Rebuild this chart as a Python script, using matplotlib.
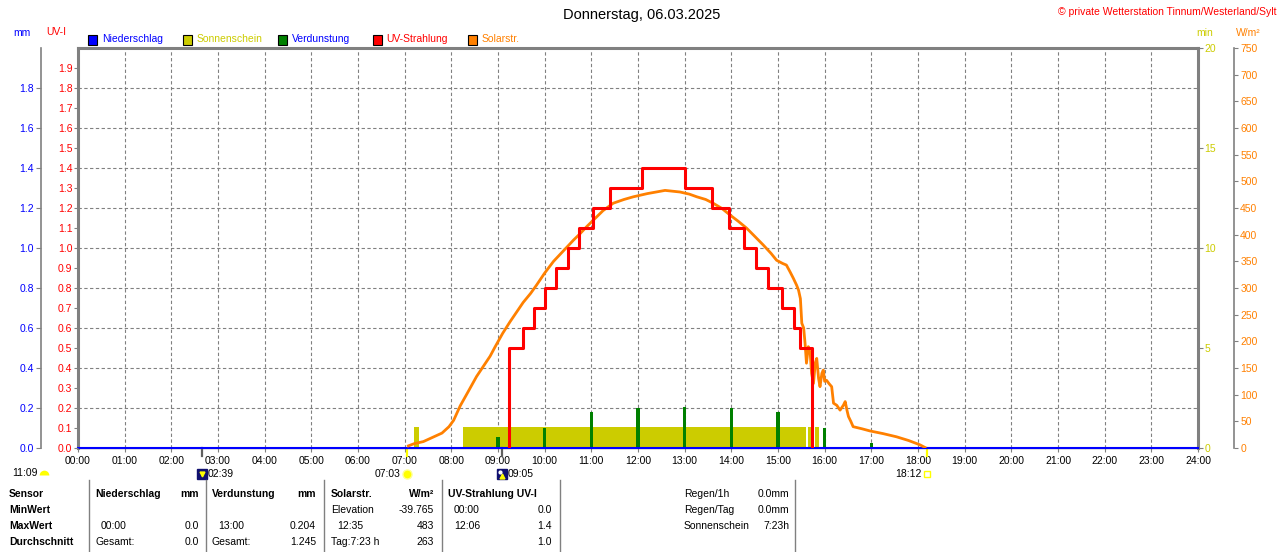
import numpy as np
import matplotlib
matplotlib.use('Agg')
import matplotlib.pyplot as plt
from matplotlib.patches import Rectangle

plt.rcParams['font.family'] = ['Liberation Sans', 'DejaVu Sans']
plt.rcParams['font.size'] = 7.5

W, H = 1280, 552

# ---- data ----
hours = list(range(25))
hour_labels = ['%02d:00' % h for h in hours]

# UV-Strahlung (UV-I), step function
uv_t = [9.24, 9.24, 9.53, 9.77, 10.00, 10.24, 10.49, 10.73, 11.04, 11.40, 12.08,
        13.01, 13.59, 13.95, 14.27, 14.53, 14.79, 15.08, 15.34, 15.47, 15.73]
uv_v = [0.0, 0.5, 0.6, 0.7, 0.8, 0.9, 1.0, 1.1, 1.2, 1.3, 1.4,
        1.3, 1.2, 1.1, 1.0, 0.9, 0.8, 0.7, 0.6, 0.5, 0.0]

# Solarstrahlung (W/m2)
solar_t = [7.08, 7.20, 7.40, 7.60, 7.80, 7.95, 8.05, 8.19, 8.35, 8.54, 8.70, 8.83,
           8.94, 9.10, 9.26, 9.40, 9.54, 9.70, 9.83, 10.00, 10.19, 10.33, 10.47,
           10.62, 10.76, 10.90, 11.04, 11.25, 11.47, 11.70, 11.90, 12.20, 12.58,
           12.90, 13.10, 13.26, 13.45, 13.61, 13.80, 13.97, 14.15, 14.33, 14.50,
           14.68, 14.85, 14.97, 15.10, 15.18, 15.26, 15.33, 15.40, 15.44, 15.48,
           15.51, 15.55, 15.58, 15.61, 15.65, 15.69, 15.72, 15.76, 15.80, 15.83,
           15.87, 15.90, 15.94, 15.97, 16.00, 16.04, 16.10, 16.15, 16.19, 16.26,
           16.33, 16.40, 16.44, 16.48, 16.51, 16.56, 16.61, 16.80, 16.97, 17.25,
           17.54, 17.80, 18.04, 18.15]
solar_w = [4, 8, 12, 20, 28, 40, 52, 79, 104, 134, 155, 172,
           190, 215, 237, 255, 273, 290, 306, 328, 350, 363, 376,
           390, 402, 415, 427, 445, 459, 466, 471, 477, 483,
           480, 476, 471, 466, 459, 449, 437, 425, 412, 397,
           381, 365, 352, 346, 343, 330, 318, 305, 296, 280,
           234, 225, 196, 159, 190, 178, 140, 121, 160, 168,
           130, 115, 140, 146, 125, 127, 120, 115, 84, 80,
           71, 80, 87, 70, 59, 50, 40, 36, 32, 27,
           21, 14, 6, 1]

# Sonnenschein (min)
sun_start = [7.21, 8.24, 15.65, 15.79]
sun_end = [7.31, 15.60, 15.70, 15.88]
sun_min = [1.05, 1.05, 1.05, 1.05]

# Verdunstung (mm)
evap_t = [9.0, 10.0, 11.0, 12.0, 13.0, 14.0, 15.0, 16.0, 17.0]
evap_mm = [0.053, 0.10, 0.18, 0.20, 0.204, 0.20, 0.18, 0.10, 0.027]

# Niederschlag (mm)
rain_t = [0, 24]
rain_mm = [0.0, 0.0]

# sun / moon events
moon_set, sunrise, moon_rise, sunset = 2.65, 7.05, 9.08, 18.2

# summary table
table_header = ['Sensor', 'Niederschlag', 'mm', 'Verdunstung', 'mm', 'Solarstr.', 'W/m²', 'UV-Strahlung UV-I']
row_labels = ['MinWert', 'MaxWert', 'Durchschnitt']
rain_rows = [('', ''), ('00:00', '0.0'), ('Gesamt:', '0.0')]
evap_rows = [('', ''), ('13:00', '0.204'), ('Gesamt:', '1.245')]
solar_rows = [('Elevation', '-39.765'), ('12:35', '483'), ('Tag:7:23 h', '263')]
uv_rows = [('00:00', '0.0'), ('12:06', '1.4'), ('', '1.0')]
extra_names = ['Regen/1h', 'Regen/Tag', 'Sonnenschein']
extra_vals = ['0.0mm', '0.0mm', '7:23h']

# ---- colours ----
gray = '#808080'
red = '#FF0000'
blue = '#0000FF'
olive = '#CCCC00'
green = '#008000'
orange = '#FF8000'
yellow = '#FFFF00'


def px(x, y):
    return x / W, 1 - y / H


fig = plt.figure(figsize=(W / 100, H / 100), dpi=100)
base = fig.add_axes([78 / W, 104 / H, 1120 / W, 400 / H])
ax_mm = base.twinx()
ax_w = base.twinx()
ax_uv = base.twinx()
base.set_zorder(0)
ax_mm.set_zorder(1)
ax_w.set_zorder(2)
ax_uv.set_zorder(3)

# base: time axis + sunshine minutes (right, on frame)
base.set_xlim(0, 24)
base.set_ylim(0, 20)
base.set_axisbelow(True)
base.set_xticks(hours, hour_labels)
base.tick_params(axis='x', colors=gray, labelcolor='black', length=3, width=0.8, pad=3)
base.grid(axis='x', color=gray, linestyle=(0, (3, 2.2)), linewidth=0.8)
base.yaxis.tick_right()
base.set_yticks([0, 5, 10, 15, 20])
base.tick_params(axis='y', colors=gray, labelcolor=olive, length=3.6, width=0.8, pad=1)
for side in ['left', 'top', 'right']:
    base.spines[side].set_color(gray)
    base.spines[side].set_linewidth(2.2)
base.spines['bottom'].set_color(gray)
base.spines['bottom'].set_linewidth(1)
base.bar(sun_start, sun_min, width=np.array(sun_end) - np.array(sun_start),
         align='edge', color=olive, linewidth=0)

# mm axis (far left)
ax_mm.set_ylim(0, 2.0)
ax_mm.set_axisbelow(True)
ax_mm.yaxis.tick_left()
ax_mm.set_yticks(np.round(np.arange(0, 1.9, 0.2), 1))
ax_mm.yaxis.set_major_formatter(matplotlib.ticker.FormatStrFormatter('%.1f'))
ax_mm.tick_params(axis='y', colors=gray, labelcolor=blue, length=3.6, width=0.8, pad=1.4)
ax_mm.grid(axis='y', color=gray, linestyle=(0, (3, 2.2)), linewidth=0.8)
for side in ['top', 'right', 'bottom']:
    ax_mm.spines[side].set_visible(False)
ax_mm.spines['left'].set_visible(True)
ax_mm.spines['left'].set_position(('outward', 26.6))
ax_mm.spines['left'].set_color(gray)
ax_mm.spines['left'].set_linewidth(1.2)
ax_mm.bar(evap_t, evap_mm, width=0.075, color=green, linewidth=0)
ax_mm.plot(rain_t, rain_mm, color=blue, linewidth=1.5, clip_on=False)

# W/m2 axis (far right)
ax_w.set_ylim(0, 750)
ax_w.set_yticks(range(0, 751, 50))
ax_w.tick_params(axis='y', colors=gray, labelcolor=orange, length=3, width=0.8, pad=1.4)
for side in ['top', 'left', 'bottom']:
    ax_w.spines[side].set_visible(False)
ax_w.spines['right'].set_position(('outward', 26))
ax_w.spines['right'].set_color(gray)
ax_w.spines['right'].set_linewidth(1.2)
ax_w.plot(solar_t, solar_w, color=orange, linewidth=2.0)

# UV-I axis (left, on frame)
ax_uv.set_ylim(0, 2.0)
ax_uv.yaxis.tick_left()
ax_uv.set_yticks(np.round(np.arange(0, 1.95, 0.1), 1))
ax_uv.yaxis.set_major_formatter(matplotlib.ticker.FormatStrFormatter('%.1f'))
ax_uv.tick_params(axis='y', colors=gray, labelcolor=red, length=3, width=0.8, pad=1)
for side in ['top', 'left', 'right', 'bottom']:
    ax_uv.spines[side].set_visible(False)
ax_uv.step(uv_t, uv_v, where='post', color=red, linewidth=2.2)

# event ticks and icons below the time axis
tr = base.get_xaxis_transform()
for t, c in [(moon_set, '#606060'), (sunrise, yellow), (moon_rise, '#606060'), (sunset, yellow)]:
    base.plot([t, t], [0, -0.02], color=c, linewidth=1.6, transform=tr, clip_on=False)

iy = -0.065
for t in [moon_set, moon_rise]:
    base.plot(t, iy, marker='s', ms=6.5, color='#101070', transform=tr, clip_on=False)
base.plot(moon_set, iy, marker='v', ms=3.5, color=yellow, transform=tr, clip_on=False)
base.plot(moon_rise, iy - 0.004, marker='^', ms=3.5, color=yellow, transform=tr, clip_on=False)
base.plot(moon_rise - 0.04, iy + 0.006, marker='o', ms=2, color='white', transform=tr, clip_on=False)
base.plot(sunrise, iy, marker='o', ms=6.5, color=yellow, markeredgecolor='#FFFF90', transform=tr, clip_on=False)
base.plot(sunset, iy, marker='s', ms=4, markerfacecolor='none', markeredgecolor=yellow, transform=tr, clip_on=False)

for t, lab, dx, ha in [(moon_set, '02:39', 4, 'left'), (sunrise, '07:03', -4.5, 'right'),
                       (moon_rise, '09:05', 4, 'left'), (sunset, '18:12', -4, 'right')]:
    base.annotate(lab, xy=(t, iy), xycoords=tr, xytext=(dx, 0), textcoords='offset points',
                  ha=ha, va='center', annotation_clip=False)

fig.text(*px(38, 473), '11:09', ha='right', va='center')
ov = fig.add_axes([0, 0, 1, 1], zorder=10)
ov.set_xlim(0, W)
ov.set_ylim(H, 0)
ov.axis('off')
ov.plot(44, 475, marker='o', ms=7, fillstyle='top', markerfacecolor=yellow,
        markerfacecoloralt='none', markeredgewidth=0)

# titles and unit labels
fig.text(*px(642, 15), 'Donnerstag, 06.03.2025', ha='center', va='center', fontsize=10.5)
fig.text(*px(1277, 12), '© private Wetterstation Tinnum/Westerland/Sylt', ha='right', va='center',
         color=red, fontsize=7.5)
fig.text(*px(22, 33), 'mm', ha='center', va='center', color=blue)
fig.text(*px(56, 32), 'UV-I', ha='center', va='center', color=red)
fig.text(*px(1205, 33), 'min', ha='center', va='center', color=olive)
fig.text(*px(1248, 33), 'W/m²', ha='center', va='center', color=orange)

# legend row
legend_items = [('Niederschlag', blue, blue, 88), ('Sonnenschein', olive, olive, 183),
                ('Verdunstung', green, blue, 277.5), ('UV-Strahlung', red, red, 372.5),
                ('Solarstr.', orange, orange, 468)]
for name, fc, tc, x0 in legend_items:
    ov.add_patch(Rectangle((x0, 35), 9, 10, facecolor=fc, edgecolor='black', linewidth=0.8))
    ov.text(x0 + 14, 39.5, name, color=tc, ha='left', va='center')

# summary table
for x in [89, 206, 324, 442, 560, 795]:
    ov.plot([x, x], [480, 552], color=gray, linewidth=1)

hy = 494
head_pos = [(9, 'left'), (95, 'left'), (199, 'right'), (212, 'left'), (316, 'right'),
            (331, 'left'), (434, 'right'), (448, 'left')]
for s, (x, ha) in zip(table_header, head_pos):
    ov.text(x, hy, s, ha=ha, va='center', fontweight='bold')
for i, lab in enumerate(row_labels):
    y = 510 + 16 * i
    ov.text(9, y, lab, ha='left', va='center', fontweight='bold')
    for (a, b), xa, xb in [(rain_rows[i], 95, 199), (evap_rows[i], 212, 316),
                           (solar_rows[i], 331, 434), (uv_rows[i], 454, 552)]:
        if a in ('00:00', '13:00', '12:35') and xa != 454:
            xa += 6
        ov.text(xa, y, a, ha='left', va='center')
        ov.text(xb, y, b, ha='right', va='center')
for i, (n, v) in enumerate(zip(extra_names, extra_vals)):
    y = 494 + 16 * i
    ov.text(684, y, n, ha='left', va='center')
    ov.text(789, y, v, ha='right', va='center')

fig.savefig('out.png', dpi=100, facecolor='white')
